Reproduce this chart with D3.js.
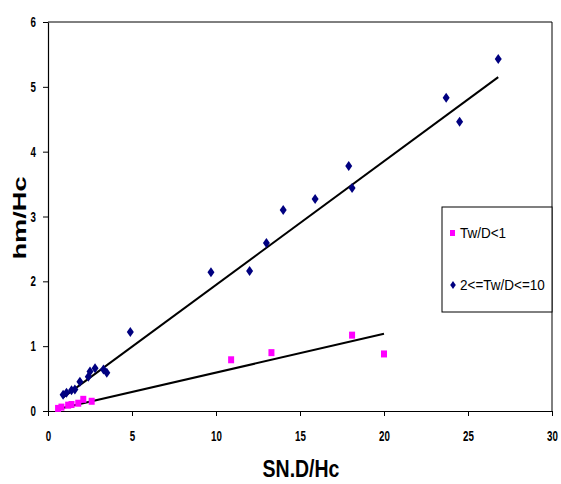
<!DOCTYPE html>
<html><head><meta charset="utf-8">
<script src="https://cdn.jsdelivr.net/npm/d3@7"></script>
<style>body{margin:0;background:#fff;} svg{display:block;}</style>
</head><body>
<svg id="c" width="561" height="484"></svg>
<script>
// Series: Tw/D<1 (pink squares)
const pinkX = [0.6, 0.8, 1.2, 1.4, 1.8, 2.1, 2.6, 10.9, 13.3, 18.1, 20.0];
const pinkY = [0.04, 0.06, 0.09, 0.10, 0.12, 0.18, 0.15, 0.79, 0.90, 1.17, 0.88];
// Series: 2<=Tw/D<=10 (navy diamonds)
const blueX = [0.9, 1.1, 1.4, 1.6, 1.9, 2.4, 2.5, 2.8, 3.3, 3.5, 4.9, 9.7, 12.0, 13.0, 14.0, 15.9, 17.9, 18.1, 23.7, 24.5, 26.8];
const blueY = [0.25, 0.28, 0.32, 0.33, 0.45, 0.53, 0.61, 0.66, 0.64, 0.59, 1.22, 2.14, 2.16, 2.59, 3.10, 3.27, 3.78, 3.44, 4.83, 4.46, 5.43];
// Trend lines (endpoints)
const pinkTrendX = [0.6, 20.0];
const pinkTrendY = [0.03, 1.19];
const blueTrendX = [0.9, 26.8];
const blueTrendY = [0.21, 5.15];
const xTicks = [0, 5, 10, 15, 20, 25, 30];
const yTicks = [0, 1, 2, 3, 4, 5, 6];
const legendLabels = ["Tw/D<1", "2<=Tw/D<=10"];

const svg = d3.select("#c");
const L = 48, R = 552, T = 22, B = 411;
const x = d3.scaleLinear().domain([0, 30]).range([L, R]);
const y = d3.scaleLinear().domain([0, 6]).range([B, T]);

const font = "'Liberation Sans', Arial, sans-serif";

// frame top & right
svg.append("line").attr("x1", L).attr("x2", R).attr("y1", T).attr("y2", T).attr("stroke", "#000").attr("stroke-width", 1);
svg.append("line").attr("x1", R).attr("x2", R).attr("y1", T).attr("y2", B).attr("stroke", "#000").attr("stroke-width", 1);

const xa = svg.append("g").attr("transform", `translate(0,${B})`)
  .call(d3.axisBottom(x).tickValues(xTicks).tickFormat(d3.format("d")).tickSize(5).tickSizeOuter(0).tickPadding(15));
const ya = svg.append("g").attr("transform", `translate(${L},0)`)
  .call(d3.axisLeft(y).tickValues(yTicks).tickFormat(d3.format("d")).tickSize(5).tickSizeOuter(0).tickPadding(7));
[xa, ya].forEach(g => {
  g.select(".domain").attr("stroke", "#000").attr("stroke-width", 1.2);
  g.selectAll(".tick line").attr("stroke", "#000");
  g.selectAll("text").attr("font-family", font).attr("font-weight", "bold")
    .attr("font-size", 13).attr("fill", "#000");
});
// narrow, tall digits like the reference
xa.selectAll(".tick text").each(function () {
  const t = d3.select(this);
  const yy = +t.attr("y");
  t.attr("transform", `translate(0,${yy}) scale(0.75,1.08)`).attr("y", 0);
});
ya.selectAll(".tick text").each(function () {
  const t = d3.select(this);
  const xx = +t.attr("x");
  t.attr("transform", `translate(${xx},0) scale(0.75,1.08)`).attr("x", 0);
});

// trend lines
const line = d3.line().x(d => x(d[0])).y(d => y(d[1]));
svg.append("path").datum(pinkTrendX.map((v, i) => [v, pinkTrendY[i]]))
  .attr("d", line).attr("stroke", "#000").attr("stroke-width", 2).attr("fill", "none");
svg.append("path").datum(blueTrendX.map((v, i) => [v, blueTrendY[i]]))
  .attr("d", line).attr("stroke", "#000").attr("stroke-width", 2).attr("fill", "none");

// points
const pink = "#FF00FF", navy = "#000080";
const sq = 6;
svg.append("g").selectAll("rect").data(pinkX.map((v, i) => [v, pinkY[i]])).join("rect")
  .attr("x", d => x(d[0]) - sq / 2).attr("y", d => y(d[1]) - sq / 2 - 0.5)
  .attr("width", sq).attr("height", sq + 1).attr("fill", pink);
const diamond = "M0,-5L3.5,0L0,5L-3.5,0Z";
svg.append("g").selectAll("path").data(blueX.map((v, i) => [v, blueY[i]])).join("path")
  .attr("transform", d => `translate(${x(d[0])},${y(d[1])})`)
  .attr("d", diamond).attr("fill", navy);

// axis titles
svg.append("text").attr("transform", "translate(301,477) scale(1,1.2)").attr("text-anchor", "middle")
  .attr("font-family", font).attr("font-weight", "bold").attr("font-size", 19.5).text("SN.D/Hc");
svg.append("text").attr("transform", "translate(26,218) rotate(-90) scale(1.43,1)").attr("text-anchor", "middle")
  .attr("font-family", font).attr("font-weight", "bold").attr("font-size", 19).text("hm/Hc");

// legend
const lg = svg.append("g");
lg.append("rect").attr("x", 442).attr("y", 207).attr("width", 110).attr("height", 105)
  .attr("fill", "#fff").attr("stroke", "#000").attr("stroke-width", 1);
lg.append("rect").attr("x", 450).attr("y", 230).attr("width", 5).attr("height", 6).attr("fill", pink);
lg.append("path").attr("transform", "translate(453,285)").attr("d", "M0,-4L2.8,0L0,4L-2.8,0Z").attr("fill", navy);
lg.selectAll("text.lt").data(legendLabels).join("text").attr("class", "lt")
  .attr("transform", (d, i) => `translate(460,${238 + i * 52}) scale(1,1.12)`)
  .attr("font-family", font).attr("font-size", 13.5).attr("fill", "#000").text(d => d);
</script>
</body></html>
